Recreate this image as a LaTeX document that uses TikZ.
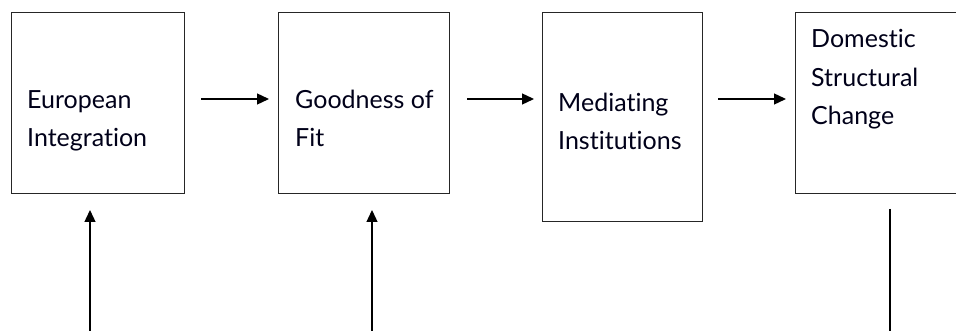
\documentclass[tikz,border=0pt]{standalone}
\usepackage{fontspec}
\setmainfont{Lato}[Ligatures={NoCommon,NoRequired,NoContextual}]
\usetikzlibrary{arrows.meta}
\begin{document}
\begin{tikzpicture}[x=1pt,y=-1pt,
  box/.style={draw=black!85,line width=1.3pt,inner sep=0pt,anchor=north west},
  lbl/.style={inner sep=0pt,anchor=base west,align=left,font=\fontsize{25}{38.5}\selectfont,text=black!90!blue},
  conn/.style={line width=1.3pt,-{Triangle[length=12pt,width=11pt]}},
  plain/.style={line width=1.3pt}]
\useasboundingbox (0,0) rectangle (956,331);
\fill[white] (0,0) rectangle (956,331);
\node[box,minimum width=173pt,minimum height=181pt] (b1) at (11,12) {};
\node[box,minimum width=171pt,minimum height=181pt] (b2) at (278,12) {};
\node[box,minimum width=160pt,minimum height=209pt] (b3) at (542,12) {};
\node[box,minimum width=180pt,minimum height=181pt] (b4) at (795,12) {};
\node[lbl] (t1) at (27,147) {European\\Integration};
\node[lbl] (t2) at (295,147) {Goodness of\\Fit};
\node[lbl] (t3) at (558,150) {Mediating\\Institutions};
\node[lbl] (t4) at (811,125) {Domestic\\Structural\\Change};
\draw[conn,shorten <=16pt,shorten >=9pt] (b1.east |- 0,99) -- (b2.west |- 0,99);
\draw[conn,shorten <=17pt,shorten >=8pt] (b2.east |- 0,99) -- (b3.west |- 0,99);
\draw[conn,shorten <=15pt,shorten >=9pt] (b3.east |- 0,99) -- (b4.west |- 0,99);
\coordinate (s1) at (90,331);
\coordinate (e1) at (90,210);
\coordinate (s2) at (372,331);
\coordinate (e2) at (372,210);
\coordinate (s4) at (890,209);
\coordinate (e4) at (890,331);
\draw[conn] (s1) -- (e1);
\draw[conn] (s2) -- (e2);
\draw[plain] (s4) -- (e4);
\end{tikzpicture}
\end{document}
